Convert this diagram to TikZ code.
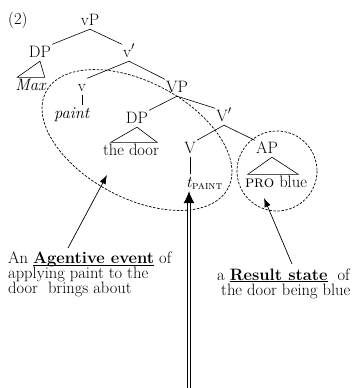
\documentclass[tikz,border=0pt]{standalone}
\usetikzlibrary{arrows.meta}
\newcommand{\myul}[1]{\underline{\smash{#1}}}
\begin{document}
\begin{tikzpicture}[x=1pt,y=-1pt,
  every node/.style={font=\fontsize{16.5}{15}\selectfont},
  cat/.style={anchor=base, inner sep=1pt, text height=11.5pt, text depth=3pt},
  branch/.style={line width=0.6pt},
  enc/.style={dash pattern=on 2.5pt off 1.5pt, line width=0.7pt},
  pointer/.style={line width=0.7pt, -{Latex[length=9pt,width=6.5pt]}},
  bigarrow/.style={double, line width=0.8pt, double distance=1.6pt, -{Latex[length=12pt,width=11pt]}},
  caption/.style={align=left, anchor=north west, inner sep=0pt}
]
\useasboundingbox (0,0) rectangle (354,388);
% tree
\node[anchor=base west, inner sep=0pt] (num) at (8,24) {(2)};
\node[cat] (vP) at (90,25) {vP};
\node[cat] (DPa) at (40,57) {DP};
\node[cat] (vbar) at (129,57) {v$'$};
\node[cat] (Max) at (31,90) {\textit{Max}};
\node[cat] (v) at (82,91) {v};
\node[cat] (paint) at (72,118) {\textit{paint}};
\node[cat] (VP) at (177,92) {VP};
\node[cat] (DPb) at (137,123) {DP};
\node[cat] (door) at (131,155) {the door};
\node[cat] (Vbar) at (224,121) {V$'$};
\node[cat] (V) at (190,153) {V};
\node[cat] (AP) at (267,153) {AP};
\node[cat, anchor=base west] (tp) at (185,187) {\textit{t}\textsubscript{\textsc{paint}}};
\node[cat] (pro) at (276,187) {\textsc{pro} blue};
\draw[branch] (vP.south) -- (DPa.north east);
\draw[branch] (vP.south) -- (vbar.north west);
\draw[branch] (vbar.south) -- (v.north east);
\draw[branch] (vbar.south) -- (VP.north west);
\draw[branch] (v.south) -- (v.south |- paint.north);
\draw[branch] (VP.south) -- (DPb.north east);
\draw[branch] (VP.south) -- (Vbar.north west);
\draw[branch] (Vbar.south) -- (V.north east);
\draw[branch] (Vbar.south) -- (AP.north west);
\draw[branch] (V.south) -- (V.south |- tp.north);
\draw[branch] (DPa.south) -- ([xshift=-3pt]Max.north east) -- ([xshift=3pt]Max.north west) -- cycle;
\draw[branch] (DPb.south) -- ([xshift=-3pt]door.north east) -- ([xshift=9pt]door.north west) -- cycle;
\draw[branch] ([xshift=5pt]AP.south) -- ([xshift=-10pt]pro.north east) -- ([xshift=4pt]pro.north west) -- cycle;
% enclosures
\draw[enc, rotate around={-28:(137,140)}] (137,140) ellipse [x radius=103, y radius=58];
\draw[enc] (277,171) circle [radius=40];
% captions
\node[caption] (agent) at (8,251.5) {An \myul{\textbf{Agentive event}} of\\applying paint to the\\door\ \ brings about};
\node[caption] (result) at (217,268.5) {a \myul{\textbf{Result state}}\ \ of\\\hspace*{4pt}the door being blue};
% arrows
\coordinate (aStart) at (68,248);
\coordinate (aTip) at (107,175);
\coordinate (rStart) at (292,264);
\coordinate (rTip) at (264,198);
\coordinate (bot) at (189,392);
\draw[pointer] (aStart) -- (aTip);
\draw[pointer] (rStart) -- (rTip);
\draw[bigarrow] (bot) -- (bot |- tp.south);
\end{tikzpicture}
\end{document}
